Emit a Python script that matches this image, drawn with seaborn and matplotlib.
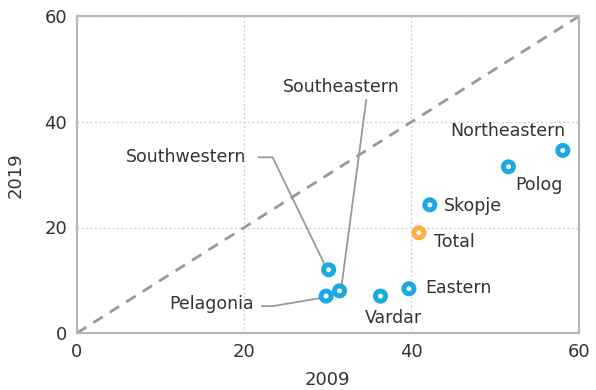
import pandas as pd
import seaborn as sns
import matplotlib.pyplot as plt

# data
regions = ['Northeastern', 'Polog', 'Skopje', 'Total', 'Eastern', 'Vardar',
           'Southwestern', 'Southeastern', 'Pelagonia']
y2009 = [58.1, 51.6, 42.2, 40.9, 39.7, 36.3, 30.1, 31.4, 29.8]
y2019 = [34.6, 31.5, 24.3, 19.0, 8.4, 7.0, 12.0, 8.0, 7.0]
kind = ['Region' if r != 'Total' else 'Total' for r in regions]

df = pd.DataFrame({'region': regions, '2009': y2009, '2019': y2019, 'kind': kind})

sns.set_style('white')
plt.rcParams['font.family'] = ['DejaVu Sans']

fig = plt.figure(figsize=(5.96, 3.9), dpi=100)
ax = fig.add_axes([0.129, 0.146, 0.842, 0.812])

txt = '#333333'
gray = '#999999'

# 45-degree reference line
ax.plot([0, 60], [0, 60], ls=(0, (4, 3)), color=gray, lw=2, zorder=1)

sns.scatterplot(data=df, x='2009', y='2019', hue='kind',
                palette={'Region': '#1BA9E1', 'Total': '#FBB040'},
                s=52, linewidth=3.6, legend=False, ax=ax, zorder=3)
# coloured ring with white centre
coll = ax.collections[-1]
coll.set_edgecolors(coll.get_facecolors())
coll.set_facecolors('white')

ax.set_xlim(0, 60)
ax.set_ylim(0, 60)
ax.set_xticks([0, 20, 40, 60])
ax.set_yticks([0, 20, 40, 60])
ax.grid(True, ls=(0, (1.5, 2)), color='#cccccc', lw=0.9)
ax.tick_params(length=0, labelsize=13, colors=txt, pad=7)
for s in ax.spines.values():
    s.set_color('#b5b8b8')
    s.set_linewidth(1.6)
ax.set_xlabel('2009', fontsize=13, color=txt, labelpad=7)
ax.set_ylabel('2019', fontsize=13, color=txt, labelpad=14)

fs = 12.5
ax.text(51.5, 38.3, 'Northeastern', ha='center', va='center', fontsize=fs, color=txt)
ax.text(52.4, 28.1, 'Polog', ha='left', va='center', fontsize=fs, color=txt)
ax.text(43.9, 24.0, 'Skopje', ha='left', va='center', fontsize=fs, color=txt)
ax.text(42.7, 17.3, 'Total', ha='left', va='center', fontsize=fs, color=txt)
ax.text(41.6, 8.5, 'Eastern', ha='left', va='center', fontsize=fs, color=txt)
ax.text(37.8, 2.9, 'Vardar', ha='center', va='center', fontsize=fs, color=txt)
ax.text(20.2, 33.4, 'Southwestern', ha='right', va='center', fontsize=fs, color=txt)
ax.text(31.6, 46.7, 'Southeastern', ha='center', va='center', fontsize=fs, color=txt)
ax.text(21.2, 5.5, 'Pelagonia', ha='right', va='center', fontsize=fs, color=txt)

# leader lines
ax.plot([21.7, 23.4, 29.8], [33.3, 33.3, 12.4], color=gray, lw=1.3, zorder=2)
ax.plot([34.6, 31.6], [44.2, 8.4], color=gray, lw=1.3, zorder=2)
ax.plot([22.1, 23.4, 29.4], [5.1, 5.1, 6.7], color=gray, lw=1.3, zorder=2)

fig.savefig('out.png', dpi=100)
